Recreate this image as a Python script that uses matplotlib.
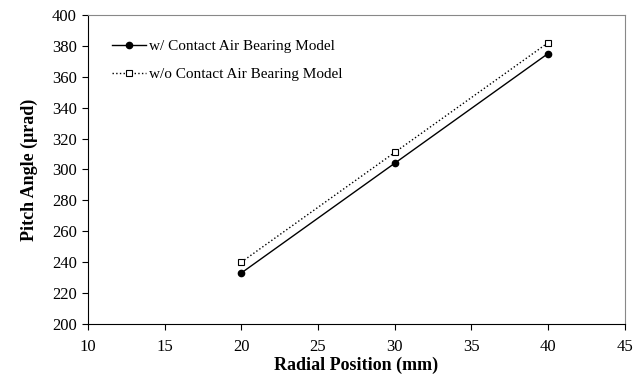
import matplotlib
matplotlib.use("Agg")
import matplotlib.pyplot as plt

plt.rcParams['font.family'] = ['Liberation Serif', 'DejaVu Serif']

# datos
radial = [20, 30, 40]
pitch_con = [233, 304, 375]
pitch_sin = [240, 311, 382]

fig = plt.figure(figsize=(6.33, 3.82), dpi=100)
ax = fig.add_axes([0.139, 0.152, 0.848, 0.809])

ax.plot(radial, pitch_con, '-', color='black', lw=1.0, marker='o', ms=4.5,
        label='w/ Contact Air Bearing Model')
ax.plot(radial, pitch_sin, ':', color='black', lw=1.0, marker='s', ms=5,
        mfc='white', mec='black', mew=0.8, label='w/o Contact Air Bearing Model')

ax.set_xlim(10, 45)
ax.set_ylim(200, 400)
ax.set_xticks(range(10, 46, 5))
ax.set_yticks(range(200, 401, 20))
ax.tick_params(direction='out', length=4, width=0.8, labelsize=12)
ax.tick_params(axis='x', pad=7)
ax.tick_params(axis='y', pad=4)

for s in ['top', 'right']:
    ax.spines[s].set_color('#888888')
    ax.spines[s].set_linewidth(0.8)
for s in ['left', 'bottom']:
    ax.spines[s].set_linewidth(0.8)

ax.set_xlabel('Radial Position (mm)', fontsize=13, fontweight='bold', labelpad=1)
ax.set_ylabel('Pitch Angle (\u03bcrad)', fontsize=13, fontweight='bold', labelpad=10)

ax.legend(loc='upper left', frameon=False, fontsize=11, handlelength=2.2,
          handletextpad=0.2, labelspacing=0.95, bbox_to_anchor=(0.02, 0.965))

fig.savefig('out.png', dpi=100)
